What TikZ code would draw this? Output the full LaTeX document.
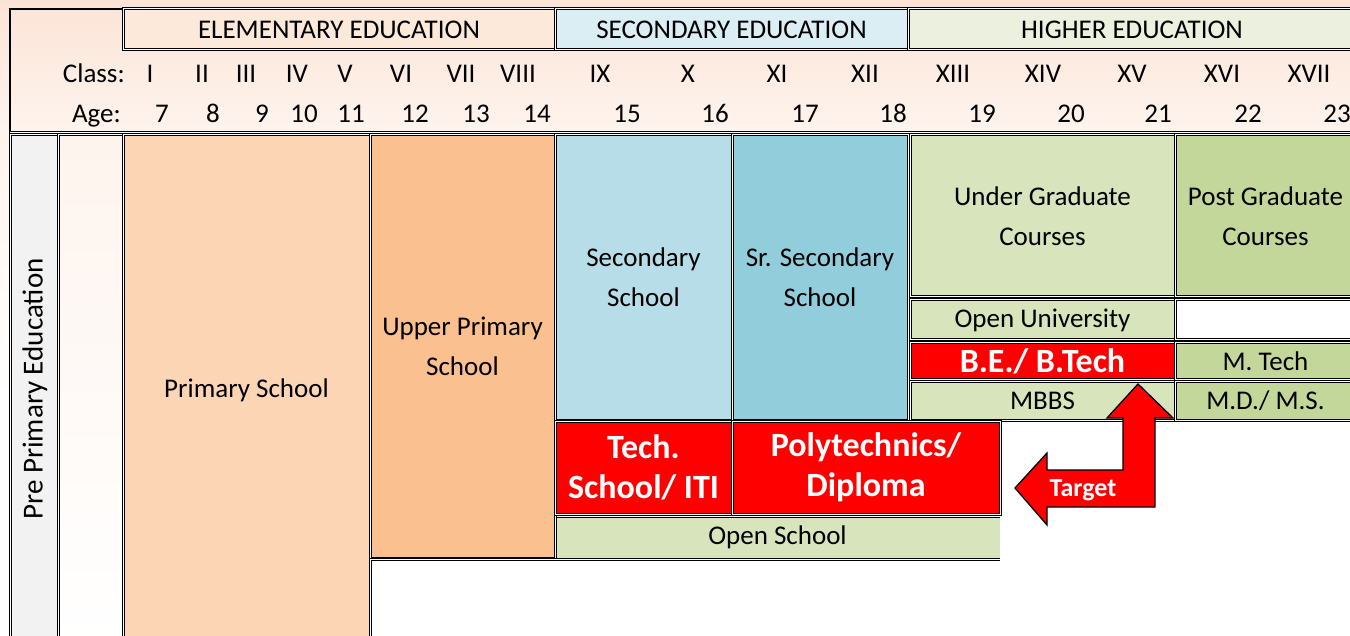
\documentclass[tikz,border=0pt]{standalone}
\usepackage{fontspec}
\setmainfont{Carlito}
\definecolor{bgpeach}{HTML}{FBE4D6}
\definecolor{bgpeachl}{HTML}{FEF4EE}
\definecolor{elemc}{HTML}{FDE9D9}
\definecolor{secc}{HTML}{DAEEF3}
\definecolor{highc}{HTML}{EBF1DE}
\definecolor{greyc}{HTML}{F2F2F2}
\definecolor{primc}{HTML}{FCD5B5}
\definecolor{upc}{HTML}{FAC090}
\definecolor{seccell}{HTML}{B7DEE8}
\definecolor{srseccell}{HTML}{92CDDC}
\definecolor{ugc}{HTML}{D8E4BC}
\definecolor{pgc}{HTML}{C4D79B}
\definecolor{myred}{HTML}{FF0000}
\newcommand\fnorm{\fontsize{27}{40}\selectfont}
\newcommand\fbig{\fontsize{34}{43}\selectfont\bfseries\color{white}}
\newcommand\cell[7]{\node[cell=#6, minimum width={#4pt-#2pt}, minimum height={#5pt-#3pt}] (#1) at (#2,#3) {#7};}
\begin{document}
\begin{tikzpicture}[x=1pt,y=-1pt,
  dbl/.style={draw=black, line width=1pt, double=white, double distance=1pt},
  cell/.style={dbl, fill=#1, anchor=north west, inner sep=2pt, outer sep=0pt, align=center, font=\fnorm},
  lbl/.style={anchor=base, inner sep=0pt, font=\fnorm}]
\useasboundingbox (0,0) rectangle (1350,636);
\fill[white] (0,0) rectangle (1350,636);
% header background
\shade[top color=bgpeach, bottom color=bgpeachl] (0,0) rectangle (1350,133);
\shade[top color=bgpeachl, bottom color=white] (0,133) rectangle (10,400);
% header frame
\node[draw=black, line width=1.5pt, anchor=north west, minimum width=1345pt, minimum height=124pt, inner sep=0pt, outer sep=0pt] (frame) at (10,9) {};
\draw[dbl, line width=1.4pt] (frame.south west) -- (frame.south east);
% header bands
\cell{elem}{123}{9}{555}{50}{elemc}{ELEMENTARY EDUCATION}
\cell{secb}{555}{9}{908}{50}{secc}{SECONDARY EDUCATION}
\cell{highb}{908}{9}{1356}{50}{highc}{HIGHER EDUCATION}
% class row
\node[lbl, anchor=base east] (classlbl) at (125,83) {Class:};
\foreach \t/\x in {I/150, II/202, III/246, IV/297, V/345, VI/401, VII/461, VIII/518, IX/600, X/688, XI/777, XII/865, XIII/953, XIV/1043, XV/1132, XVI/1222, XVII/1309}
  \node[lbl] (c\t) at (\x,83) {\t};
\node[lbl, anchor=base east] (agelbl) at (121,123) {Age:};
\foreach \t/\x in {7/162, 8/213, 9/262, 10/304, 11/351, 12/415, 13/476, 14/537, 15/627, 16/715, 17/805, 18/893, 19/982, 20/1071, 21/1158, 22/1248, 23/1337}
  \node[lbl] (a\t) at (\x,123) {\t};
% body
\cell{prepri}{10}{135}{58}{645}{greyc}{}
\node[rotate=90, font=\fontsize{29}{34}\selectfont, inner sep=0pt] (pretext) at (35,389) {Pre Primary Education};
\node[dbl, anchor=north west, top color=bgpeachl, bottom color=white, minimum width=65pt, minimum height=510pt, outer sep=0pt] (precol) at (58,135) {};
\cell{primary}{123}{135}{370}{645}{primc}{Primary School}
\cell{upper}{370}{135}{555}{558}{upc}{Upper Primary\\School}
\cell{sec}{555}{135}{732}{420}{seccell}{Secondary\\School}
\cell{srsec}{732}{135}{908}{420}{srseccell}{Sr. Secondary\\School}
\cell{ug}{910}{135}{1175}{297}{ugc}{Under Graduate\\Courses}
\cell{pg}{1175}{135}{1356}{297}{pgc}{Post Graduate\\Courses}
\cell{ou}{910}{300}{1175}{340}{ugc}{Open University}
\cell{blank}{1175}{300}{1356}{340}{white}{}
\cell{be}{910}{343}{1175}{380}{myred}{\fbig B.E./ B.Tech}
\cell{mtech}{1175}{343}{1356}{380}{pgc}{M. Tech}
\cell{mbbs}{910}{382}{1175}{420}{ugc}{MBBS}
\cell{mdms}{1175}{382}{1356}{420}{pgc}{M.D./ M.S.}
\cell{tech}{555}{421}{732}{514}{myred}{\fbig Tech.\\\fbig School/ ITI}
\cell{poly}{732}{421}{1000}{514}{myred}{\fbig Polytechnics/\\\fbig Diploma}
\node[fill=ugc, anchor=north west, minimum width=445pt, minimum height=42pt, inner sep=0pt, outer sep=0pt, font=\fnorm] (os) at (555,516) {Open School};
\draw[dbl] (os.north west) -- (os.north east);
\draw[dbl] (os.south west) -- (os.north west);
\node[anchor=north west, minimum width=630pt, minimum height=85pt, inner sep=0pt, outer sep=0pt] (low) at (370,559) {};
\draw[dbl] (low.south west) -- (low.north west) -- (low.north east);
% target arrow
\draw[fill=myred, draw=black, line width=1.3pt, line join=miter]
  (1138,384) -- (1173,418) -- (1155,418) -- (1155,507) -- (1047,507) -- (1047,525)
  -- (1015,488) -- (1047,453) -- (1047,470) -- (1123,470) -- (1123,418) -- (1107,418) -- cycle;
\node[font=\fontsize{26}{30}\selectfont\bfseries, text=white, inner sep=0pt] (target) at (1083,490) {Target};
\end{tikzpicture}
\end{document}
